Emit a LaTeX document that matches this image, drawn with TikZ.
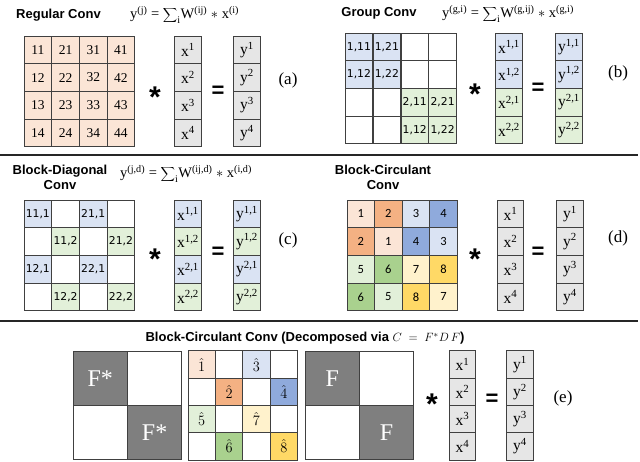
\documentclass[tikz,border=0pt]{standalone}
\usepackage{fontspec}
\setmainfont{Liberation Serif}
\setsansfont{Liberation Sans}
\newfontfamily\calfont{Carlito}
\newfontfamily\verfont{DejaVu Sans}
\definecolor{peach}{HTML}{FBE5D6}
\definecolor{orng}{HTML}{F4B183}
\definecolor{lblue}{HTML}{DAE3F3}
\definecolor{dblue}{HTML}{8FAADC}
\definecolor{lgreen}{HTML}{E2F0D9}
\definecolor{dgreen}{HTML}{A9D18E}
\definecolor{lyellow}{HTML}{FFF2CC}
\definecolor{dyellow}{HTML}{FFD966}
\definecolor{vecgray}{HTML}{E6E6E6}
\definecolor{fgray}{HTML}{7F7F7F}
\definecolor{gridline}{HTML}{404040}
\begin{document}
\begin{tikzpicture}[x=1pt, y=-1pt,
		cell/.style={draw=gridline, line width=0.8pt, minimum width=27.6pt, minimum height=27.6pt, inner sep=0pt, font=\fontsize{13.5}{15}\selectfont},
		pair cell/.style={cell, font=\verfont\fontsize{10.8}{12}\selectfont},
		circ cell/.style={cell, font=\calfont\fontsize{12.5}{14}\selectfont},
		hat cell/.style={cell, font=\fontsize{15}{17}\selectfont},
		vec/.style={cell, fill=vecgray, minimum width=26.5pt, font=\fontsize{15.5}{17}\selectfont},
		title/.style={font=\sffamily\bfseries\fontsize{13}{15}\selectfont, align=center},
		formula/.style={font=\fontsize{14.5}{16}\selectfont, anchor=west, inner sep=0pt},
		star/.style={font=\sffamily\bfseries\fontsize{30}{32}\selectfont, inner sep=0pt},
		equal/.style={font=\sffamily\bfseries\fontsize{22}{24}\selectfont, inner sep=0pt},
		tag/.style={font=\fontsize{17}{19}\selectfont},
		bigblock/.style={draw=gridline, line width=0.8pt, minimum size=54.4pt, inner sep=0pt, font=\fontsize{24}{26}\selectfont, text=white}]
			\useasboundingbox (0,0) rectangle (640,461);
			% separators
			\draw[line width=1.4pt, black!85] (0,155) -- (638,155);
			\draw[line width=1.4pt, black!85] (0,321) -- (638,321);
			% (a) regular conv
			\node[title] (ta) at (58.5,15) {Regular Conv};
			\node[formula] (fa) at (130,15) {y\textsuperscript{(j)} = $\displaystyle\sum\nolimits_{\mathrm{i}}$W\textsuperscript{(ij)} $\ast$ x\textsuperscript{(i)}};
			\foreach \c in {1,...,4}{
			  \foreach \r in {1,...,4}{
			      \node[cell, fill=peach] (a-\c-\r) at ({24+27.7*\c-13.85}, {36+27.7*\r-13.85}) {\c\r};
			  }}
			\foreach \r in {1,...,4}{
			  \node[vec] (ax-\r) at (188, {36+27.7*\r-13.85}) {x\textsuperscript{\r}};
			  \node[vec] (ay-\r) at (247, {36+27.7*\r-13.85}) {y\textsuperscript{\r}};
			}
			\node[star] (sa) at (155,97) {*};
			\node[equal] (ea) at (218,92) {=};
			\node[tag] (la) at (288,80) {(a)};
			% (b) group conv
			\node[title] (tb) at (379,13) {Group Conv};
			\node[formula] (fb) at (442,14) {y\textsuperscript{(g,i)} = $\displaystyle\sum\nolimits_{\mathrm{i}}$W\textsuperscript{(g,ij)} $\ast$ x\textsuperscript{(g,i)}};
			\foreach \c/\r/\col/\txt in {1/1/lblue/{1,11}, 2/1/lblue/{1,21}, 3/1/white/{}, 4/1/white/{},
			    1/2/lblue/{1,12}, 2/2/lblue/{1,22}, 3/2/white/{}, 4/2/white/{},
			    1/3/white/{}, 2/3/white/{}, 3/3/lgreen/{2,11}, 4/3/lgreen/{2,21},
			    1/4/white/{}, 2/4/white/{}, 3/4/lgreen/{1,12}, 4/4/lgreen/{1,22}}{
			  \node[pair cell, fill=\col] (b-\c-\r) at ({345+27.9*\c-13.95}, {33+27.7*\r-13.85}) {\txt};
			}
			\foreach \r/\col/\txt in {1/lblue/{1,1}, 2/lblue/{1,2}, 3/lgreen/{2,1}, 4/lgreen/{2,2}}{
			  \node[vec, fill=\col] (bx-\r) at (509, {33+27.7*\r-13.85}) {x\textsuperscript{\txt}};
			  \node[vec, fill=\col] (by-\r) at (569, {33+27.7*\r-13.85}) {y\textsuperscript{\txt}};
			}
			\node[star] (sb) at (475,94) {*};
			\node[equal] (eb) at (538,89) {=};
			\node[tag] (lb) at (618,73) {(b)};
			% (c) block-diagonal conv
			\node[title] (tc) at (60,177) {Block-Diagonal\\Conv};
			\node[formula] (fc) at (120,174) {y\textsuperscript{(j,d)} = $\displaystyle\sum\nolimits_{\mathrm{i}}$W\textsuperscript{(ij,d)} $\ast$ x\textsuperscript{(i,d)}};
			\foreach \c/\r/\col/\txt in {1/1/lblue/{11,1}, 2/1/white/{}, 3/1/lblue/{21,1}, 4/1/white/{},
			    1/2/white/{}, 2/2/lgreen/{11,2}, 3/2/white/{}, 4/2/lgreen/{21,2},
			    1/3/lblue/{12,1}, 2/3/white/{}, 3/3/lblue/{22,1}, 4/3/white/{},
			    1/4/white/{}, 2/4/lgreen/{12,2}, 3/4/white/{}, 4/4/lgreen/{22,2}}{
			  \node[pair cell, fill=\col] (c-\c-\r) at ({24+27.7*\c-13.85}, {200+27.7*\r-13.85}) {\txt};
			}
			\foreach \r/\col/\txt in {1/lblue/{1,1}, 2/lgreen/{1,2}, 3/lblue/{2,1}, 4/lgreen/{2,2}}{
			  \node[vec, fill=\col] (cx-\r) at (188, {200+27.7*\r-13.85}) {x\textsuperscript{\txt}};
			  \node[vec, fill=\col] (cy-\r) at (247, {200+27.7*\r-13.85}) {y\textsuperscript{\txt}};
			}
			\node[star] (sc) at (155,259) {*};
			\node[equal] (ec) at (218,253) {=};
			\node[tag] (lc) at (288,240) {(c)};
			% (d) block-circulant conv
			\node[title] (td) at (383,177) {Block-Circulant\\Conv};
			\foreach \c/\r/\col/\txt in {1/1/peach/1, 2/1/orng/2, 3/1/lblue/3, 4/1/dblue/4,
			    1/2/orng/2, 2/2/peach/1, 3/2/dblue/4, 4/2/lblue/3,
			    1/3/lgreen/5, 2/3/dgreen/6, 3/3/lyellow/7, 4/3/dyellow/8,
			    1/4/dgreen/6, 2/4/lgreen/5, 3/4/dyellow/8, 4/4/lyellow/7}{
			  \node[circ cell, fill=\col] (d-\c-\r) at ({347+27.6*\c-13.8}, {200+27.7*\r-13.85}) {\txt};
			}
			\foreach \r in {1,...,4}{
			  \node[vec] (dx-\r) at (510.5, {200+27.7*\r-13.85}) {x\textsuperscript{\r}};
			  \node[vec] (dy-\r) at (570, {200+27.7*\r-13.85}) {y\textsuperscript{\r}};
			}
			\node[star] (sd) at (475,259) {*};
			\node[equal] (ed) at (538,253) {=};
			\node[tag] (ld) at (618,238) {(d)};
			% (e) decomposed
			\node[title] (te) at (305,338) {Block-Circulant Conv (Decomposed via $C\;=\;F^{*}D\,F$)};
			\node[bigblock, fill=fgray] (fs-1) at (100.2,378.2) {F*};
			\node[bigblock, fill=white] (fs-2) at (154.6,378.2) {};
			\node[bigblock, fill=white] (fs-3) at (100.2,432.6) {};
			\node[bigblock, fill=fgray] (fs-4) at (154.6,432.6) {F*};
			\foreach \c/\r/\col/\txt in {1/1/peach/1, 2/1/white/, 3/1/lblue/3, 4/1/white/,
			    1/2/white/, 2/2/orng/2, 3/2/white/, 4/2/dblue/4,
			    1/3/lgreen/5, 2/3/white/, 3/3/lyellow/7, 4/3/white/,
			    1/4/white/, 2/4/dgreen/6, 3/4/white/, 4/4/dyellow/8}{
			  \node[hat cell, fill=\col] (e-\c-\r) at ({188+27.4*\c-13.7}, {351+27.2*\r-13.6}) {\ifx\txt\empty\else$\hat{\txt}$\fi};
			}
			\node[bigblock, fill=fgray] (f-1) at (332.2,378.2) {F};
			\node[bigblock, fill=white] (f-2) at (386.6,378.2) {};
			\node[bigblock, fill=white] (f-3) at (332.2,432.6) {};
			\node[bigblock, fill=fgray] (f-4) at (386.6,432.6) {F};
			\foreach \r in {1,...,4}{
			  \node[vec] (ex-\r) at (462.5, {351+27.2*\r-13.6}) {x\textsuperscript{\r}};
			  \node[vec] (ey-\r) at (520, {351+27.2*\r-13.6}) {y\textsuperscript{\r}};
			}
			\node[star] (se) at (432,404) {*};
			\node[equal] (ee) at (492,400) {=};
			\node[tag] (le) at (563,398) {(e)};
		\end{tikzpicture}
\end{document}
